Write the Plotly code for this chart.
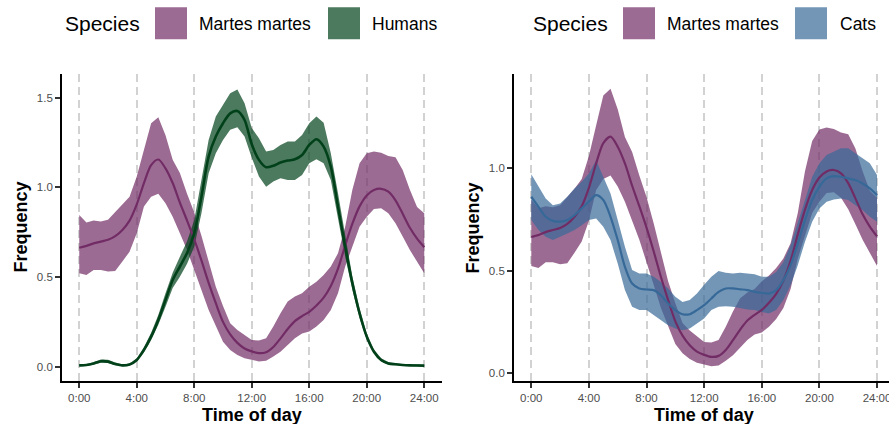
import plotly.graph_objects as go

# ---------------- data ----------------
hours = [i * 0.5 for i in range(49)]

marten_mid = [0.664, 0.674, 0.688, 0.698, 0.708, 0.728, 0.763, 0.815, 0.905, 1.024,
              1.124, 1.155, 1.106, 1.024, 0.915, 0.815, 0.710, 0.593, 0.468, 0.355,
              0.251, 0.181, 0.134, 0.103, 0.087, 0.077, 0.082, 0.111, 0.159, 0.211,
              0.255, 0.283, 0.307, 0.342, 0.386, 0.451, 0.547, 0.677, 0.798, 0.894,
              0.955, 0.985, 0.992, 0.976, 0.928, 0.853, 0.775, 0.715, 0.667]
marten_hi = [0.846, 0.805, 0.815, 0.810, 0.820, 0.862, 0.900, 0.948, 1.060, 1.210,
             1.357, 1.390, 1.290, 1.153, 1.080, 0.965, 0.860, 0.730, 0.586, 0.447,
             0.340, 0.243, 0.206, 0.178, 0.150, 0.148, 0.160, 0.225, 0.299, 0.364,
             0.392, 0.410, 0.447, 0.475, 0.512, 0.559, 0.633, 0.781, 0.986, 1.134,
             1.190, 1.200, 1.193, 1.175, 1.167, 1.097, 0.986, 0.890, 0.856]
marten_lo = [0.522, 0.512, 0.540, 0.540, 0.531, 0.535, 0.587, 0.642, 0.744, 0.893,
             0.948, 0.965, 0.911, 0.837, 0.744, 0.651, 0.540, 0.429, 0.317, 0.225,
             0.140, 0.095, 0.067, 0.048, 0.039, 0.031, 0.035, 0.058, 0.085, 0.122,
             0.160, 0.187, 0.197, 0.225, 0.262, 0.317, 0.410, 0.559, 0.670, 0.781,
             0.837, 0.880, 0.883, 0.856, 0.800, 0.726, 0.651, 0.586, 0.522]

human_mid = [0.009, 0.011, 0.020, 0.032, 0.030, 0.017, 0.009, 0.014, 0.039, 0.095,
             0.169, 0.262, 0.373, 0.484, 0.559, 0.635, 0.745, 0.948, 1.171, 1.283,
             1.357, 1.412, 1.425, 1.375, 1.240, 1.153, 1.112, 1.120, 1.138, 1.149,
             1.156, 1.180, 1.236, 1.268, 1.227, 1.115, 0.893, 0.670, 0.466, 0.299,
             0.169, 0.085, 0.039, 0.020, 0.015, 0.011, 0.009, 0.008, 0.007]
human_hi = [0.015, 0.017, 0.027, 0.042, 0.040, 0.025, 0.015, 0.020, 0.047, 0.110,
            0.190, 0.290, 0.410, 0.525, 0.614, 0.700, 0.818, 1.041, 1.264, 1.394,
            1.459, 1.524, 1.545, 1.468, 1.330, 1.273, 1.199, 1.208, 1.236, 1.255,
            1.255, 1.292, 1.357, 1.394, 1.360, 1.190, 0.967, 0.726, 0.503, 0.327,
            0.187, 0.098, 0.048, 0.028, 0.020, 0.017, 0.016, 0.016, 0.015]
human_lo = [0.003, 0.005, 0.013, 0.024, 0.022, 0.010, 0.004, 0.008, 0.031, 0.080,
            0.150, 0.235, 0.335, 0.440, 0.503, 0.575, 0.670, 0.856, 1.078, 1.190,
            1.264, 1.320, 1.335, 1.283, 1.165, 1.060, 1.004, 1.032, 1.050, 1.041,
            1.041, 1.069, 1.134, 1.156, 1.134, 1.041, 0.818, 0.614, 0.429, 0.271,
            0.150, 0.076, 0.030, 0.014, 0.009, 0.006, 0.004, 0.003, 0.002]

cat_mid = [0.861, 0.812, 0.763, 0.743, 0.739, 0.747, 0.771, 0.804, 0.837, 0.869,
           0.845, 0.763, 0.649, 0.518, 0.436, 0.412, 0.407, 0.404, 0.379, 0.338,
           0.306, 0.286, 0.286, 0.306, 0.330, 0.363, 0.395, 0.412, 0.412, 0.408,
           0.404, 0.395, 0.390, 0.387, 0.404, 0.453, 0.526, 0.632, 0.747, 0.845,
           0.910, 0.951, 0.962, 0.959, 0.951, 0.943, 0.926, 0.902, 0.869]
cat_hi = [0.971, 0.910, 0.853, 0.820, 0.828, 0.861, 0.902, 0.935, 0.975, 1.040,
          0.959, 0.877, 0.747, 0.616, 0.502, 0.485, 0.485, 0.469, 0.444, 0.412,
          0.371, 0.346, 0.355, 0.387, 0.430, 0.469, 0.498, 0.489, 0.485, 0.489,
          0.485, 0.482, 0.469, 0.469, 0.493, 0.542, 0.624, 0.730, 0.845, 0.959,
          1.025, 1.065, 1.082, 1.098, 1.098, 1.074, 1.049, 1.025, 0.967]
cat_lo = [0.747, 0.698, 0.665, 0.649, 0.665, 0.681, 0.698, 0.722, 0.747, 0.755,
          0.714, 0.649, 0.534, 0.404, 0.322, 0.306, 0.306, 0.281, 0.257, 0.232,
          0.216, 0.208, 0.216, 0.240, 0.265, 0.306, 0.322, 0.325, 0.322, 0.317,
          0.309, 0.306, 0.297, 0.289, 0.306, 0.355, 0.428, 0.526, 0.641, 0.739,
          0.804, 0.837, 0.848, 0.853, 0.845, 0.820, 0.796, 0.763, 0.739]

tick_hours = [0, 4, 8, 12, 16, 20, 24]
tick_labels = ["0:00", "4:00", "8:00", "12:00", "16:00", "20:00", "24:00"]

species_left = ["Martes martes", "Humans"]
species_right = ["Martes martes", "Cats"]

# ---------------- styling ----------------
W, H = 889, 424
FONT = "Liberation Sans"
COL = {
    "Martes martes": (114, 44, 101),
    "Humans": (0, 65, 26),
    "Cats": (55, 105, 152),
}


def rgb(c):
    return "rgb(%d,%d,%d)" % c


def rgba(c, a=0.7):
    return "rgba(%d,%d,%d,%.2f)" % (c + (a,))


def px(x):
    return x / W


def py(y):
    return 1 - y / H


fig = go.Figure()


def ribbon(name, lo, hi, xa, ya):
    fig.add_trace(go.Scatter(
        x=hours + hours[::-1], y=hi + lo[::-1], fill="toself",
        fillcolor=rgba(COL[name]), line=dict(width=0), mode="lines",
        hoverinfo="skip", showlegend=False, xaxis=xa, yaxis=ya))


def curve(name, mid, xa, ya, w=2.2):
    fig.add_trace(go.Scatter(
        x=hours, y=mid, mode="lines",
        line=dict(color=rgb(COL[name]), width=w, shape="spline", smoothing=0.8),
        showlegend=False, name=name, xaxis=xa, yaxis=ya))


# left panel
ribbon("Martes martes", marten_lo, marten_hi, "x", "y")
ribbon("Humans", human_lo, human_hi, "x", "y")
curve("Martes martes", marten_mid, "x", "y")
curve("Humans", human_mid, "x", "y", w=2.6)
# right panel
ribbon("Martes martes", marten_lo, marten_hi, "x2", "y2")
ribbon("Cats", cat_lo, cat_hi, "x2", "y2")
curve("Martes martes", marten_mid, "x2", "y2")
curve("Cats", cat_mid, "x2", "y2")

ydom = [py(381), py(74)]
tickfont = dict(family=FONT, size=11.5, color="#4D4D4D")
xcommon = dict(
    tickvals=tick_hours, ticktext=tick_labels, showline=True, linecolor="black",
    linewidth=1.8, ticks="outside", ticklen=5, tickwidth=1.5, tickcolor="#333333",
    tickfont=tickfont, showgrid=True, gridcolor="#D2D2D2", gridwidth=1.6,
    griddash="8px,5px", zeroline=False, automargin=False, fixedrange=True,
    ticklabeloverflow="allow",
)
ycommon = dict(
    showline=True, linecolor="black", linewidth=1.8, ticks="outside", ticklen=5,
    tickwidth=1.5, tickcolor="#333333", tickfont=tickfont, showgrid=False,
    zeroline=False, tickformat=".1f", automargin=False, fixedrange=True,
)

fig.update_layout(
    width=W, height=H, margin=dict(l=0, r=0, t=0, b=0),
    paper_bgcolor="white", plot_bgcolor="white", template="none",
    showlegend=False,
    xaxis=dict(domain=[px(62), px(441.5)], range=[-1.2, 25.2], anchor="y", **xcommon),
    yaxis=dict(domain=ydom, range=[-0.078, 1.631], tickvals=[0, 0.5, 1.0, 1.5],
               anchor="x", **ycommon),
    xaxis2=dict(domain=[px(514), 1.0], range=[-1.2, (889 - 531.3) / 14.405],
                anchor="y2", **xcommon),
    yaxis2=dict(domain=ydom, range=[-0.041, 1.462], tickvals=[0, 0.5, 1.0],
                anchor="x2", **ycommon),
)

ann = []
shapes = []
titlefont = dict(family=FONT, size=18, color="black", weight="bold")
for xc in (20, 472):
    ann.append(dict(text="Frequency", x=px(xc), y=py(227.5), xref="paper", yref="paper",
                    textangle=-90, xanchor="center", yanchor="middle", showarrow=False,
                    font=titlefont))
for xc in (251.7, 704):
    ann.append(dict(text="Time of day", x=px(xc), y=py(415), xref="paper", yref="paper",
                    xanchor="center", yanchor="middle", showarrow=False, font=titlefont))

# legends (drawn as boxes + labels)
legend_specs = [
    (65, species_left, [(155, 199), (328, 372)]),
    (533, species_right, [(623, 667), (795, 840)]),
]
for title_x, names, slots in legend_specs:
    ann.append(dict(text="Species", x=px(title_x), y=py(23.5), xref="paper", yref="paper",
                    xanchor="left", yanchor="middle", showarrow=False, borderpad=0,
                    borderwidth=0, font=dict(family=FONT, size=21, color="black")))
    for name, (bx, tx) in zip(names, slots):
        shapes.append(dict(type="rect", xref="paper", yref="paper", x0=px(bx), x1=px(bx + 32),
                           y0=py(39.3), y1=py(7.3), fillcolor=rgba(COL[name]),
                           line=dict(width=0), layer="above"))
        ann.append(dict(text=name, x=px(tx), y=py(23.5), xref="paper", yref="paper",
                        xanchor="left", yanchor="middle", showarrow=False, borderpad=0,
                        borderwidth=0, font=dict(family=FONT, size=17.5, color="black")))

fig.update_layout(annotations=ann, shapes=shapes)
fig.write_html("out.html", config={"displayModeBar": False})
